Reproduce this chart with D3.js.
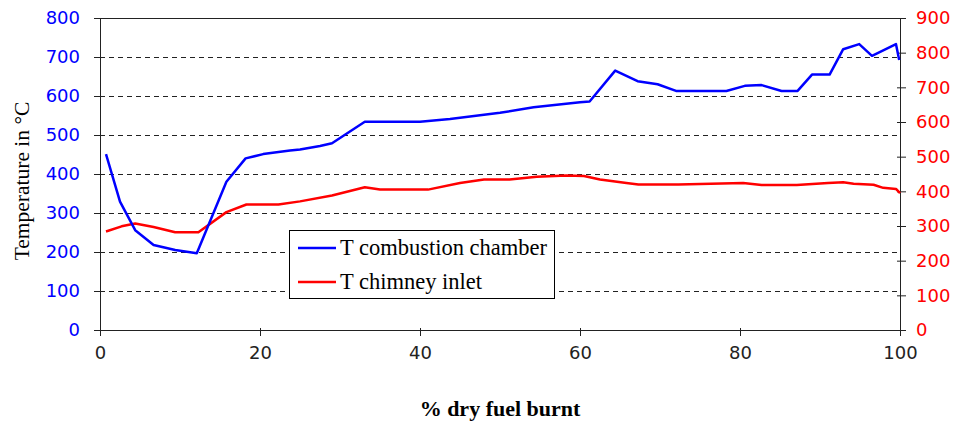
<!DOCTYPE html>
<html>
<head>
<meta charset="utf-8">
<script src="https://cdn.jsdelivr.net/npm/d3@7"></script>
<style>
  body { margin: 0; background: #fff; }
  svg { display: block; }
</style>
</head>
<body>
<div id="chart"></div>
<script>
// % dry fuel burnt vs temperature (combustion chamber on left axis, chimney inlet on right axis)
const chamberX = [0.75, 2.5, 4.4, 6.7, 9.4, 12.1, 15.8, 18.2, 20.4, 23.75, 25, 27.5, 29, 33.1, 40, 43.75, 50, 54.2, 60, 61.2, 64.4, 67.2, 69.7, 72, 78.3, 80.6, 82.7, 85.2, 87.2, 89, 91.2, 92.9, 94.9, 96.5, 99.5, 99.9];
const chamberT = [451, 329, 256, 218, 205, 197, 380, 440, 451, 460, 463, 472, 479, 534, 534, 541, 557, 571, 584, 586, 665, 638, 630, 613, 613, 626, 628, 613, 613, 655, 655, 720, 733, 703, 733, 692];

const chimneyX = [0.75, 2.7, 4.4, 6.7, 9.4, 12.3, 15.8, 18.3, 22.3, 25, 29, 33.1, 35, 41, 45, 48, 51.2, 54.6, 58.3, 60.5, 62.5, 65.8, 67.3, 72.3, 80.4, 82.7, 87.1, 91, 92.9, 94.2, 96.7, 97.9, 99.5, 100];
const chimneyT = [284, 299, 307, 297, 282, 282, 340, 362, 362, 371, 388, 412, 405, 405, 424, 434, 434, 442, 446, 444, 434, 424, 420, 420, 424, 418, 418, 424, 426, 422, 419, 410, 407, 395];

const xTicks = [0, 20, 40, 60, 80, 100];
const leftTicks = [0, 100, 200, 300, 400, 500, 600, 700, 800];
const rightTicks = [0, 100, 200, 300, 400, 500, 600, 700, 800, 900];
const seriesNames = ["T combustion chamber", "T chimney inlet"];
const seriesColors = ["#0000ff", "#ff0000"];

const width = 957;
const height = 423;
const margin = { top: 18, right: 57, bottom: 93, left: 100 };
const plotW = width - margin.left - margin.right;
const plotH = height - margin.top - margin.bottom;

const svg = d3
  .select("#chart")
  .append("svg")
  .attr("width", width)
  .attr("height", height);

const g = svg
  .append("g")
  .attr("transform", `translate(${margin.left},${margin.top})`);

const x = d3.scaleLinear().domain([0, 100]).range([0, plotW]);
const yLeft = d3.scaleLinear().domain([0, 800]).range([plotH, 0]);
const yRight = d3.scaleLinear().domain([0, 900]).range([plotH, 0]);

// dashed gridlines
g.selectAll(".grid")
  .data(leftTicks.filter((d) => d > 0 && d < 800))
  .enter()
  .append("line")
  .attr("x1", 0)
  .attr("x2", plotW)
  .attr("y1", (d) => Math.round(yLeft(d)) + 0.5)
  .attr("y2", (d) => Math.round(yLeft(d)) + 0.5)
  .attr("stroke", "#222")
  .attr("stroke-width", 1)
  .attr("shape-rendering", "crispEdges")
  .attr("stroke-dasharray", "5,4");

// top border
g.append("line")
  .attr("x1", 0)
  .attr("x2", plotW)
  .attr("y1", 0.5)
  .attr("y2", 0.5)
  .attr("stroke", "#222")
  .attr("shape-rendering", "crispEdges");

const xAxis = g
  .append("g")
  .attr("transform", `translate(0,${plotH})`)
  .call(d3.axisBottom(x).tickValues(xTicks).tickSize(6).tickSizeOuter(0).tickPadding(14));
xAxis.select(".domain").attr("stroke", "#222").attr("shape-rendering", "crispEdges");
xAxis.selectAll(".tick line").attr("stroke", "#222").attr("y1", -2).attr("y2", 6);
xAxis
  .selectAll(".tick text")
  .attr("font-family", "DejaVu Sans, sans-serif")
  .attr("font-size", 18)
  .attr("fill", "#222")
  .attr("dy", "0.5em");

const leftAxis = g
  .append("g")
  .call(d3.axisLeft(yLeft).tickValues(leftTicks).tickSize(6).tickSizeOuter(0).tickPadding(14));
leftAxis.select(".domain").attr("stroke", "#222").attr("shape-rendering", "crispEdges");
leftAxis.selectAll(".tick line").attr("stroke", "#222").attr("x1", 4).attr("x2", -6);
leftAxis
  .selectAll(".tick text")
  .attr("font-family", "DejaVu Sans, sans-serif")
  .attr("font-size", 18)
  .attr("fill", "#0000ff");

const rightAxis = g
  .append("g")
  .attr("transform", `translate(${plotW},0)`)
  .call(d3.axisRight(yRight).tickValues(rightTicks).tickSize(6).tickSizeOuter(0).tickPadding(10));
rightAxis.select(".domain").attr("stroke", "#222").attr("shape-rendering", "crispEdges");
rightAxis.selectAll(".tick line").attr("stroke", "#222").attr("x1", -3).attr("x2", 6);
rightAxis
  .selectAll(".tick text")
  .attr("font-family", "DejaVu Sans, sans-serif")
  .attr("font-size", 18)
  .attr("fill", "#ff0000");

// lines
const chamberData = chamberX.map((v, i) => [v, chamberT[i]]);
const chimneyData = chimneyX.map((v, i) => [v, chimneyT[i]]);

g.append("path")
  .datum(chimneyData)
  .attr("fill", "none")
  .attr("stroke", seriesColors[1])
  .attr("stroke-width", 2.5)
  .attr("stroke-linejoin", "round")
  .attr("d", d3.line().x((d) => x(d[0])).y((d) => yRight(d[1])));

g.append("path")
  .datum(chamberData)
  .attr("fill", "none")
  .attr("stroke", seriesColors[0])
  .attr("stroke-width", 2.5)
  .attr("stroke-linejoin", "round")
  .attr("d", d3.line().x((d) => x(d[0])).y((d) => yLeft(d[1])));

// axis titles
svg
  .append("text")
  .attr("transform", "translate(29,181) rotate(-90)")
  .attr("text-anchor", "middle")
  .attr("font-family", "Liberation Serif, Times New Roman, serif")
  .attr("font-size", 21.5)
  .attr("fill", "#000")
  .text("Temperature in °C");

svg
  .append("text")
  .attr("x", margin.left + plotW / 2)
  .attr("y", 416)
  .attr("text-anchor", "middle")
  .attr("font-family", "Liberation Serif, Times New Roman, serif")
  .attr("font-size", 22)
  .attr("font-weight", "bold")
  .attr("fill", "#000")
  .text("% dry fuel burnt");

// legend
const legend = svg.append("g").attr("transform", "translate(289,230)");
legend
  .append("rect")
  .attr("x", 0.5)
  .attr("y", 0.5)
  .attr("width", 265)
  .attr("height", 68)
  .attr("fill", "#fff")
  .attr("stroke", "#000");

const items = legend
  .selectAll(".legend-item")
  .data(seriesNames)
  .enter()
  .append("g")
  .attr("transform", (d, i) => `translate(0,${18 + i * 34})`);

items
  .append("line")
  .attr("x1", 9)
  .attr("x2", 47)
  .attr("y1", 0)
  .attr("y2", 0)
  .attr("stroke", (d, i) => seriesColors[i])
  .attr("stroke-width", 2.5);

items
  .append("text")
  .attr("x", 51)
  .attr("y", 7)
  .attr("font-family", "Liberation Serif, Times New Roman, serif")
  .attr("font-size", 22.5)
  .attr("fill", "#000")
  .text((d) => d);
</script>
</body>
</html>
